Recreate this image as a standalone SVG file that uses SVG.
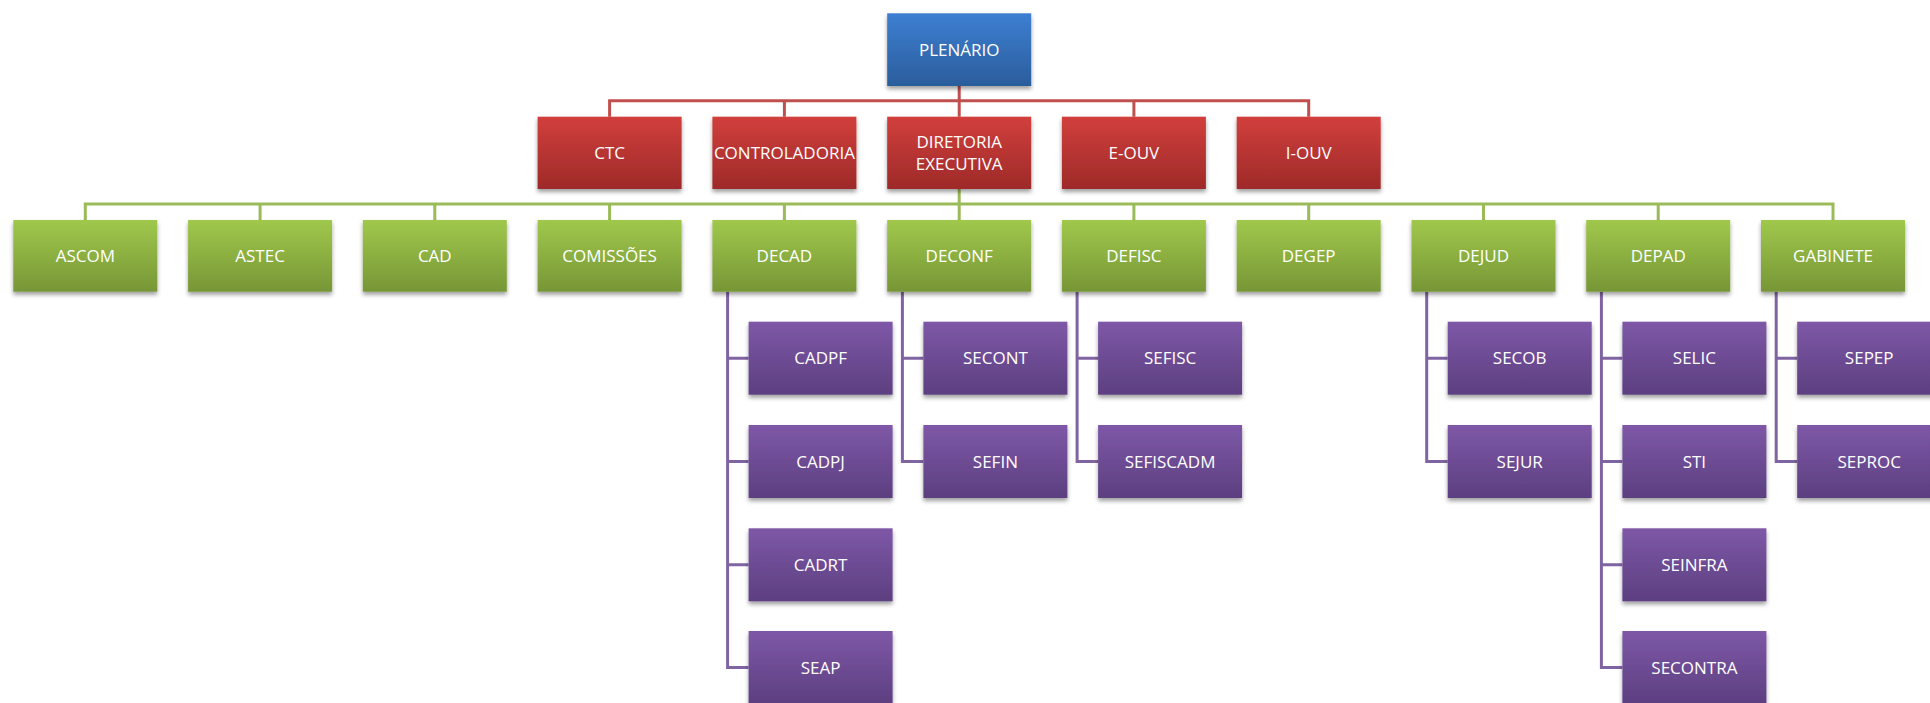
<svg xmlns="http://www.w3.org/2000/svg" width="1930" height="703" viewBox="0 0 1930 703">
<defs>
<linearGradient id="gBlue" x1="0" y1="0" x2="0" y2="1"><stop offset="0" stop-color="#3d7fd2"/><stop offset="1" stop-color="#2b5d9c"/></linearGradient>
<linearGradient id="gRed" x1="0" y1="0" x2="0" y2="1"><stop offset="0" stop-color="#d13f3c"/><stop offset="1" stop-color="#9e2a29"/></linearGradient>
<linearGradient id="gGreen" x1="0" y1="0" x2="0" y2="1"><stop offset="0" stop-color="#a0c84c"/><stop offset="1" stop-color="#779636"/></linearGradient>
<linearGradient id="gPurple" x1="0" y1="0" x2="0" y2="1"><stop offset="0" stop-color="#7e58a7"/><stop offset="1" stop-color="#5c3f80"/></linearGradient>
<filter id="sh" x="-10%" y="-10%" width="120%" height="140%"><feDropShadow dx="0" dy="3" stdDeviation="2.2" flood-color="#000" flood-opacity="0.38"/></filter>
</defs>
<style>
.b{filter:url(#sh)}
.blue{fill:url(#gBlue)}
.red{fill:url(#gRed)}
.green{fill:url(#gGreen)}
.purple{fill:url(#gPurple)}
text{font-family:"Open Sans","Liberation Sans",sans-serif;font-size:17px;fill:#ffffff;text-anchor:middle}
.cr{stroke:#c0504d;stroke-width:3;fill:none}
.cg{stroke:#9bbb59;stroke-width:3;fill:none}
.cp{stroke:#8064a2;stroke-width:3;fill:none}
.ci{stroke:#ffffff;stroke-opacity:0.35;stroke-width:0.8;fill:none}
</style>
<rect width="1930" height="703" fill="#ffffff"/>
<g id="connectors">
<path class="cr" d="M959.2 86V116.7M609.6 116.7V100.7H1308.7V116.7M784.4 100.7V116.7M1133.9 100.7V116.7"/>
<path class="cg" d="M959.2 189V220M85.3 220V204H1833V220M260.1 204V220M434.8 204V220M609.6 204V220M784.4 204V220M1133.9 204V220M1308.7 204V220M1483.5 204V220M1658.2 204V220"/>
<path class="cp" d="M727.6 291.7V667.5H748.6M727.6 358.2H748.6M727.6 461.5H748.6M727.6 564.8H748.6"/>
<path class="cp" d="M902.4 291.7V461.5H923.4M902.4 358.2H923.4"/>
<path class="cp" d="M1077.1 291.7V461.5H1098.1M1077.1 358.2H1098.1"/>
<path class="cp" d="M1426.7 291.7V461.5H1447.7M1426.7 358.2H1447.7"/>
<path class="cp" d="M1601.4 291.7V667.5H1622.4M1601.4 358.2H1622.4M1601.4 461.5H1622.4M1601.4 564.8H1622.4"/>
<path class="cp" d="M1776.2 291.7V461.5H1797.2M1776.2 358.2H1797.2"/>
</g>
<g id="plenario"><rect class="b blue" x="887.2" y="13.3" width="144" height="72.7"/><text x="959.2" y="55.5">PLENÁRIO</text></g>
<g id="ctc"><rect class="b red" x="537.6" y="116.7" width="144" height="72.3"/><text x="609.6" y="159">CTC</text></g>
<g id="controladoria"><rect class="b red" x="712.4" y="116.7" width="144" height="72.3"/><text x="784.4" y="159">CONTROLADORIA</text></g>
<g id="diretoria"><rect class="b red" x="887.2" y="116.7" width="144" height="72.3"/><text x="959.2" y="148">DIRETORIA</text><text x="959.2" y="170">EXECUTIVA</text></g>
<g id="eouv"><rect class="b red" x="1061.9" y="116.7" width="144" height="72.3"/><text x="1133.9" y="159">E-OUV</text></g>
<g id="iouv"><rect class="b red" x="1236.7" y="116.7" width="144" height="72.3"/><text x="1308.7" y="159">I-OUV</text></g>
<g id="ascom"><rect class="b green" x="13.3" y="220" width="144" height="71.7"/><text x="85.3" y="262">ASCOM</text></g>
<g id="astec"><rect class="b green" x="188.1" y="220" width="144" height="71.7"/><text x="260.1" y="262">ASTEC</text></g>
<g id="cad"><rect class="b green" x="362.8" y="220" width="144" height="71.7"/><text x="434.8" y="262">CAD</text></g>
<g id="comissoes"><rect class="b green" x="537.6" y="220" width="144" height="71.7"/><text x="609.6" y="262">COMISSÕES</text></g>
<g id="decad"><rect class="b green" x="712.4" y="220" width="144" height="71.7"/><text x="784.4" y="262">DECAD</text></g>
<g id="deconf"><rect class="b green" x="887.2" y="220" width="144" height="71.7"/><text x="959.2" y="262">DECONF</text></g>
<g id="defisc"><rect class="b green" x="1061.9" y="220" width="144" height="71.7"/><text x="1133.9" y="262">DEFISC</text></g>
<g id="degep"><rect class="b green" x="1236.7" y="220" width="144" height="71.7"/><text x="1308.7" y="262">DEGEP</text></g>
<g id="dejud"><rect class="b green" x="1411.5" y="220" width="144" height="71.7"/><text x="1483.5" y="262">DEJUD</text></g>
<g id="depad"><rect class="b green" x="1586.2" y="220" width="144" height="71.7"/><text x="1658.2" y="262">DEPAD</text></g>
<g id="gabinete"><rect class="b green" x="1761" y="220" width="144" height="71.7"/><text x="1833" y="262">GABINETE</text></g>
<g id="cadpf"><rect class="b purple" x="748.6" y="321.7" width="144" height="73"/><text x="820.6" y="364.2">CADPF</text></g>
<g id="cadpj"><rect class="b purple" x="748.6" y="425" width="144" height="73"/><text x="820.6" y="467.5">CADPJ</text></g>
<g id="cadrt"><rect class="b purple" x="748.6" y="528.3" width="144" height="73"/><text x="820.6" y="570.8">CADRT</text></g>
<g id="seap"><rect class="b purple" x="748.6" y="631" width="144" height="73"/><text x="820.6" y="673.5">SEAP</text></g>
<g id="secont"><rect class="b purple" x="923.4" y="321.7" width="144" height="73"/><text x="995.4" y="364.2">SECONT</text></g>
<g id="sefin"><rect class="b purple" x="923.4" y="425" width="144" height="73"/><text x="995.4" y="467.5">SEFIN</text></g>
<g id="sefisc"><rect class="b purple" x="1098.1" y="321.7" width="144" height="73"/><text x="1170.1" y="364.2">SEFISC</text></g>
<g id="sefiscadm"><rect class="b purple" x="1098.1" y="425" width="144" height="73"/><text x="1170.1" y="467.5">SEFISCADM</text></g>
<g id="secob"><rect class="b purple" x="1447.7" y="321.7" width="144" height="73"/><text x="1519.7" y="364.2">SECOB</text></g>
<g id="sejur"><rect class="b purple" x="1447.7" y="425" width="144" height="73"/><text x="1519.7" y="467.5">SEJUR</text></g>
<g id="selic"><rect class="b purple" x="1622.4" y="321.7" width="144" height="73"/><text x="1694.4" y="364.2">SELIC</text></g>
<g id="sti"><rect class="b purple" x="1622.4" y="425" width="144" height="73"/><text x="1694.4" y="467.5">STI</text></g>
<g id="seinfra"><rect class="b purple" x="1622.4" y="528.3" width="144" height="73"/><text x="1694.4" y="570.8">SEINFRA</text></g>
<g id="secontra"><rect class="b purple" x="1622.4" y="631" width="144" height="73"/><text x="1694.4" y="673.5">SECONTRA</text></g>
<g id="sepep"><rect class="b purple" x="1797.2" y="321.7" width="144" height="73"/><text x="1869.2" y="364.2">SEPEP</text></g>
<g id="seproc"><rect class="b purple" x="1797.2" y="425" width="144" height="73"/><text x="1869.2" y="467.5">SEPROC</text></g>
</svg>
